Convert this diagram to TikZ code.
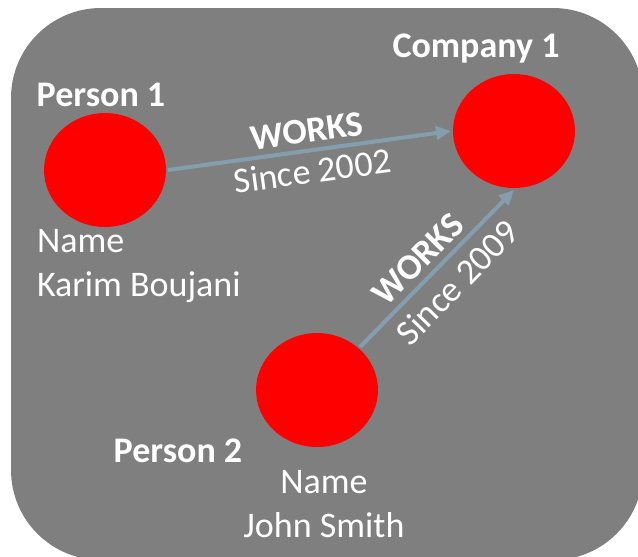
\documentclass[tikz,border=0pt]{standalone}
\usepackage{fontspec}
\setmainfont{Carlito}
\usetikzlibrary{shapes.geometric,arrows.meta}
\definecolor{boxgray}{RGB}{127,127,127}
\definecolor{linkblue}{RGB}{132,158,174}

\begin{document}
\begin{tikzpicture}[x = 0.02cm, y = -0.02cm, line width = 2.3pt,
    every node/.style = {text = white, font = \fontsize{20.5}{25}\selectfont},
    entity/.style = {ellipse, fill = red, inner sep = 0pt, minimum width = 2.44cm, minimum height = 2.28cm},
    title/.style = {anchor = base, font = \fontsize{20.5}{25}\selectfont\bfseries},
    prop/.style = {anchor = base, inner sep = 0pt}]
\useasboundingbox (0,0) rectangle (638,556);
\fill [boxgray, rounded corners = 1.8cm] (11,8) rectangle (643,560);
\draw (105,170) node[entity](p1){}
    (514,131) node[entity](c1){}
    (317,390) node[entity](p2){};
\draw (101,106) node[title](t1){Person 1}
    (476,57) node[title](t2){Company 1}
    (178,462) node[title](t3){Person 2};
\draw (35,252) node[prop, anchor = base west](n1){Name}
    (35,296) node[prop, anchor = base west](v1){Karim Boujani}
    (324,493) node[prop](n2){Name}
    (324,537) node[prop](v2){John Smith};
    \draw [-{Triangle[length = 0.3cm, width = 0.27cm]}, linkblue] (p1.east) -- (c1.west)
        node[midway, above, sloped, font = \fontsize{20.5}{25}\selectfont\bfseries] {WORKS}
        node[midway, below, sloped] {Since 2002};
    \draw [-{Triangle[length = 0.3cm, width = 0.27cm]}, linkblue] (p2.45) -- (c1.south)
        node[pos = 0.47, above, sloped, font = \fontsize{20.5}{25}\selectfont\bfseries] {WORKS}
        node[pos = 0.52, below = 2pt, sloped] {Since 2009};
\end{tikzpicture}
\end{document}
